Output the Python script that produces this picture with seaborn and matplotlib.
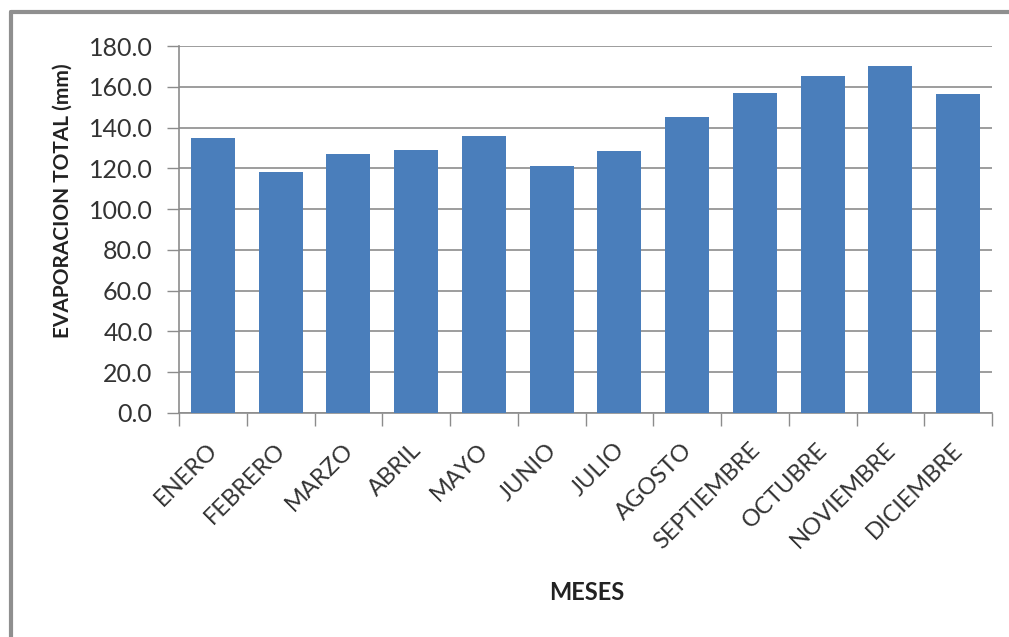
import matplotlib
matplotlib.use("Agg")
import matplotlib.pyplot as plt
import matplotlib.transforms as mtransforms
import numpy as np
import pandas as pd
import seaborn as sns

meses = ["ENERO", "FEBRERO", "MARZO", "ABRIL", "MAYO", "JUNIO", "JULIO",
         "AGOSTO", "SEPTIEMBRE", "OCTUBRE", "NOVIEMBRE", "DICIEMBRE"]
evaporacion = [135.0, 118.1, 126.8, 128.9, 136.1, 121.0, 128.7,
               145.3, 157.1, 165.3, 170.2, 156.3]
y_ticks = [0, 20, 40, 60, 80, 100, 120, 140, 160, 180]

sns.set_theme(style="white")
plt.rcParams["font.family"] = ["Lato", "DejaVu Sans"]

df = pd.DataFrame({"mes": meses, "evap": evaporacion})

fig = plt.figure(figsize=(10.09, 6.37), dpi=100)
ax = fig.add_axes([179 / 1009, 1 - 413 / 637, (992 - 179) / 1009, (413 - 46) / 637])

sns.barplot(data=df, x="mes", y="evap", color="#4A7EBB", saturation=1,
            width=0.65, linewidth=0, ax=ax, zorder=3)

ax.set_ylim(0, 180)
ax.set_xlim(-0.5, len(meses) - 0.5)
ax.set_yticks(y_ticks)
ax.set_yticklabels([f"{v:.1f}" for v in y_ticks], fontsize=18, color="#333333")
ax.yaxis.grid(True, color="#8C8C8C", linewidth=1.2, zorder=0)
ax.set_axisbelow(True)

ax.set_xticks(range(len(meses)))
ax.set_xticklabels(meses, rotation=45, ha="right", rotation_mode="anchor",
                   fontsize=17, color="#333333")
ax.set_xticks(np.arange(-0.5, len(meses), 1), minor=True)
ax.tick_params(axis="x", which="major", length=0, pad=19)
ax.tick_params(axis="x", which="minor", length=9, width=1, color="#8C8C8C",
               direction="out", bottom=True)
ax.tick_params(axis="y", length=9, width=1, color="#8C8C8C", direction="out",
               left=True, pad=10)

# nudge the slanted month names slightly to the left
shift = mtransforms.ScaledTranslation(-6 / 100, 0, fig.dpi_scale_trans)
for lbl in ax.get_xticklabels():
    lbl.set_transform(lbl.get_transform() + shift)

for side in ["top", "right"]:
    ax.spines[side].set_visible(False)
for side in ["left", "bottom"]:
    ax.spines[side].set_color("#8C8C8C")
    ax.spines[side].set_linewidth(1.2)

ax.set_xlabel("MESES", fontsize=17, fontweight="bold", color="#222222")
ax.set_ylabel("EVAPORACION TOTAL (mm)", fontsize=15, fontweight="bold",
              color="#222222")
ax.xaxis.set_label_coords((587 - 179) / (992 - 179), -(581 - 413) / (413 - 46))
ax.yaxis.set_label_coords(-(179 - 73) / (992 - 179), (413 - 201) / (413 - 46))

# frame along the top and left edges of the figure
fig.add_artist(plt.Line2D([11 / 1009, 11 / 1009], [0, 1 - 12 / 637],
                          transform=fig.transFigure, color="#8F8F8F", linewidth=3))
fig.add_artist(plt.Line2D([11 / 1009, 1], [1 - 12 / 637, 1 - 12 / 637],
                          transform=fig.transFigure, color="#8F8F8F", linewidth=3))

fig.savefig("out.png", dpi=100)
